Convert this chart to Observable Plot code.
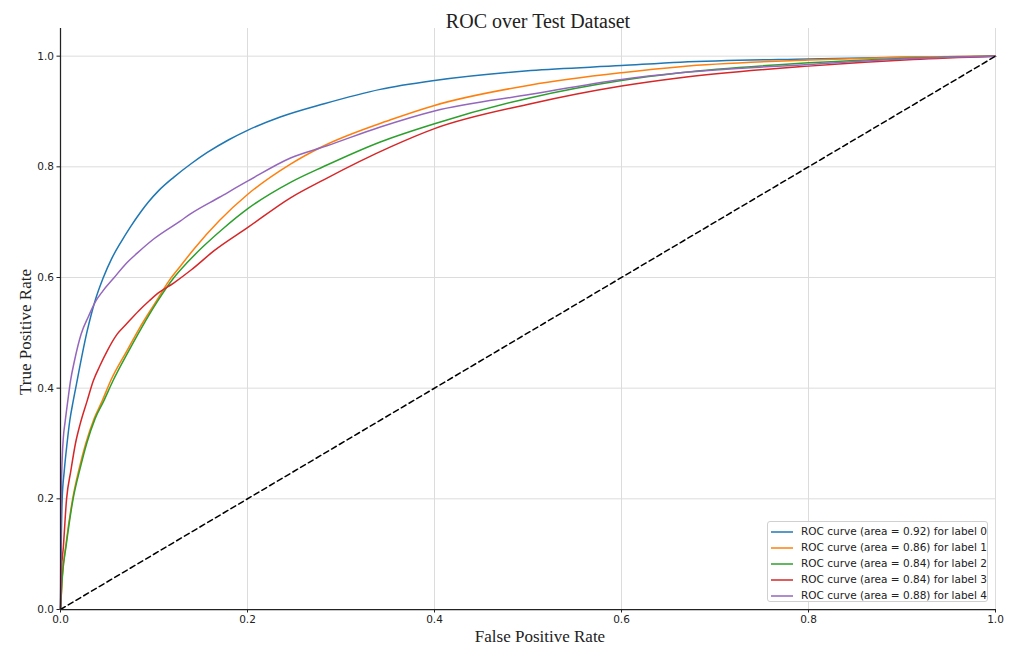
<!DOCTYPE html>
<html>
<head>
<meta charset="utf-8">
<script src="https://cdn.jsdelivr.net/npm/d3@7"></script>
<script src="https://cdn.jsdelivr.net/npm/@observablehq/plot@0.6"></script>
<style>
  body { margin: 0; background: white; }
  #wrap { position: relative; width: 1011px; height: 645px; }
  #legend {
    position: absolute; left: 767px; top: 521px; width: 221px; height: 81px;
    border: 1px solid #d0d0d0; border-radius: 3px; background: rgba(255,255,255,0.85);
    font-family: "DejaVu Sans", sans-serif; font-size: 10.5px; color: #222;
    box-sizing: border-box; padding-top: 2px;
  }
  .row { position: relative; height: 16px; }
  .row svg { position: absolute; left: 3px; top: 3px; }
  .row span { position: absolute; left: 33px; top: 1px; white-space: nowrap; }
</style>
</head>
<body>
<div id="wrap"></div>
<script>
const title = "ROC over Test Dataset";
const xLabel = "False Positive Rate";
const yLabel = "True Positive Rate";
const labels = ["0", "1", "2", "3", "4"];
const areas = ["0.92", "0.86", "0.84", "0.84", "0.88"];
const colors = ["#1f77b4", "#ff7f0e", "#2ca02c", "#d62728", "#9467bd"];
const xTicks = [0, 0.2, 0.4, 0.6, 0.8, 1.0];
const yTicks = [0, 0.2, 0.4, 0.6, 0.8, 1.0];

const fpr0 = [0, 0.0008, 0.0018, 0.004, 0.007, 0.01, 0.0135, 0.016, 0.0285, 0.037, 0.0456, 0.055, 0.065, 0.075, 0.0856, 0.0938, 0.105, 0.121, 0.14, 0.157, 0.18, 0.2, 0.235, 0.282, 0.342, 0.4, 0.503, 0.6, 0.663, 0.8, 0.9, 1];
const tpr0 = [0, 0.12, 0.2, 0.25, 0.3, 0.342, 0.376, 0.398, 0.503, 0.558, 0.599, 0.635, 0.665, 0.692, 0.718, 0.736, 0.757, 0.781, 0.806, 0.826, 0.849, 0.866, 0.89, 0.914, 0.94, 0.956, 0.974, 0.983, 0.989, 0.995, 0.998, 1];

const fpr1 = [0, 0.002, 0.006, 0.013, 0.02, 0.027, 0.036, 0.0446, 0.0535, 0.071, 0.085, 0.1016, 0.116, 0.128, 0.143, 0.17, 0.2, 0.246, 0.278, 0.353, 0.4, 0.503, 0.6, 0.663, 0.8, 0.9, 1];
const tpr1 = [0, 0.06, 0.12, 0.2, 0.255, 0.3, 0.345, 0.377, 0.413, 0.4675, 0.51, 0.555, 0.594, 0.62, 0.652, 0.703, 0.75, 0.805, 0.835, 0.885, 0.911, 0.948, 0.97, 0.981, 0.993, 0.998, 1];

const fpr2 = [0, 0.002, 0.006, 0.0135, 0.021, 0.028, 0.037, 0.0463, 0.056, 0.073, 0.087, 0.103, 0.121, 0.135, 0.152, 0.175, 0.2, 0.246, 0.282, 0.342, 0.4, 0.503, 0.6, 0.663, 0.8, 0.9, 1];
const tpr2 = [0, 0.06, 0.115, 0.2, 0.255, 0.3, 0.345, 0.377, 0.413, 0.4675, 0.51, 0.555, 0.599, 0.626, 0.655, 0.69, 0.724, 0.772, 0.801, 0.845, 0.878, 0.925, 0.956, 0.97, 0.988, 0.996, 1];

const fpr3 = [0, 0.001, 0.003, 0.0065, 0.011, 0.016, 0.021, 0.0285, 0.035, 0.042, 0.05, 0.0606, 0.07, 0.0838, 0.095, 0.103, 0.121, 0.14, 0.164, 0.2, 0.246, 0.282, 0.353, 0.4, 0.503, 0.6, 0.663, 0.8, 0.912, 1];
const tpr3 = [0, 0.07, 0.112, 0.2, 0.25, 0.3, 0.335, 0.377, 0.413, 0.44, 0.4675, 0.4976, 0.515, 0.54, 0.558, 0.57, 0.59, 0.614, 0.648, 0.69, 0.744, 0.777, 0.836, 0.869, 0.914, 0.946, 0.961, 0.982, 0.994, 1];

const fpr4 = [0, 0.0005, 0.001, 0.002, 0.003, 0.005, 0.0078, 0.0107, 0.015, 0.022, 0.03, 0.038, 0.045, 0.057, 0.07, 0.082, 0.1, 0.128, 0.139, 0.17, 0.2, 0.246, 0.285, 0.342, 0.4, 0.503, 0.6, 0.663, 0.8, 0.912, 1];
const tpr4 = [0, 0.15, 0.22, 0.28, 0.31, 0.34, 0.377, 0.413, 0.45, 0.4976, 0.53, 0.558, 0.575, 0.599, 0.625, 0.644, 0.67, 0.702, 0.715, 0.745, 0.774, 0.816, 0.838, 0.872, 0.901, 0.931, 0.958, 0.97, 0.985, 0.996, 1];

const diagX = [0, 1];
const diagY = [0, 1];

const fprs = [fpr0, fpr1, fpr2, fpr3, fpr4];
const tprs = [tpr0, tpr1, tpr2, tpr3, tpr4];
const roc = [];
labels.forEach((lab, i) => fprs[i].forEach((f, j) => roc.push({label: lab, fpr: f, tpr: tprs[i][j]})));
const diag = diagX.map((x, i) => ({x, y: diagY[i]}));

const fmt = d3.format(".1f");
const serif = "'Liberation Serif', 'Times New Roman', serif";

const chart = Plot.plot({
  width: 1011,
  height: 645,
  marginLeft: 60,
  marginRight: 16,
  marginTop: 28,
  marginBottom: 36,
  style: {fontFamily: "'DejaVu Sans', sans-serif", fontSize: "10.5px", color: "#222", background: "white", overflow: "visible"},
  x: {domain: [0, 1], label: null},
  y: {domain: [0, 1.05], label: null},
  color: {domain: labels, range: colors},
  marks: [
    Plot.gridX(xTicks, {stroke: "#dcdcdc", strokeOpacity: 1, strokeWidth: 1}),
    Plot.gridY(yTicks, {stroke: "#dcdcdc", strokeOpacity: 1, strokeWidth: 1}),
    Plot.axisX(xTicks, {tickSize: 3.5, tickPadding: 3, tickFormat: fmt, label: null, stroke: "#222"}),
    Plot.axisY(yTicks, {tickSize: 3.5, tickPadding: 3, tickFormat: fmt, label: null, stroke: "#222"}),
    Plot.line(roc, {x: "fpr", y: "tpr", z: "label", stroke: "label", strokeWidth: 1.5, curve: "monotone-x"}),
    Plot.line(diag, {x: "x", y: "y", stroke: "black", strokeWidth: 1.5, strokeDasharray: "5.5,3.5"}),
    Plot.ruleX([0], {stroke: "#222", strokeWidth: 1.25}),
    Plot.ruleY([0], {stroke: "#222", strokeWidth: 1.25}),
    Plot.text([title], {frameAnchor: "top", dx: 10, dy: -7, textAnchor: "middle", lineAnchor: "middle", fontFamily: serif, fontSize: 20, fill: "#222"}),
    Plot.text([xLabel], {frameAnchor: "bottom", dx: 12, dy: 27, textAnchor: "middle", lineAnchor: "middle", fontFamily: serif, fontSize: 17, fill: "#222"}),
    Plot.text([yLabel], {frameAnchor: "left", dx: -35, dy: 13, rotate: -90, textAnchor: "middle", lineAnchor: "middle", fontFamily: serif, fontSize: 17, fill: "#222"})
  ]
});

const wrap = document.getElementById("wrap");
wrap.appendChild(chart);

const legend = document.createElement("div");
legend.id = "legend";
labels.forEach((lab, i) => {
  const row = document.createElement("div");
  row.className = "row";
  row.innerHTML = `<svg width="24" height="10"><line x1="0" y1="5" x2="22" y2="5" stroke="${colors[i]}" stroke-width="1.5"/></svg><span>ROC curve (area = ${areas[i]}) for label ${lab}</span>`;
  legend.appendChild(row);
});
wrap.appendChild(legend);
</script>
</body>
</html>
